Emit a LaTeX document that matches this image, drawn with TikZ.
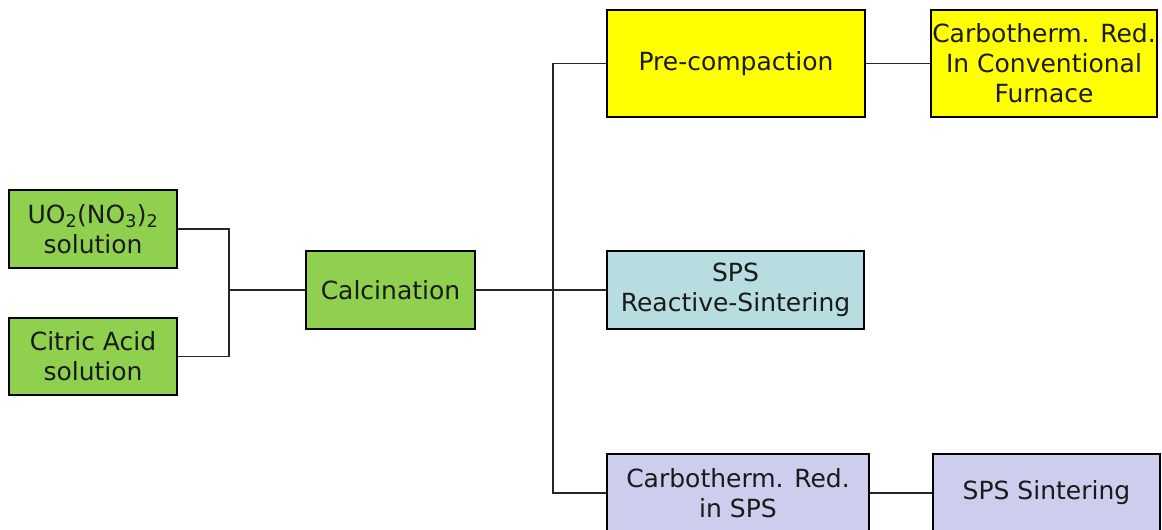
\documentclass[tikz,border=0pt]{standalone}
\usepackage{fontspec}
\setmainfont{DejaVu Sans}
\definecolor{boxgreen}{HTML}{8FD14F}
\definecolor{boxyellow}{HTML}{FFFF00}
\definecolor{boxblue}{HTML}{B8DDE1}
\definecolor{boxlav}{HTML}{CDCDEE}
\definecolor{txt}{HTML}{1A1A1A}
\begin{document}
\begin{tikzpicture}[x=1pt,y=-1pt,
  stepbox/.style={draw=black, line width=1.7pt, rectangle, align=center,
    inner sep=0pt, text=txt, font=\fontsize{25}{30}\selectfont},
  link/.style={draw=black!85, line width=1.6pt}]
\useasboundingbox (0,0) rectangle (1162,530);
\clip (0,0) rectangle (1162,530);

% mixing stage
\node[stepbox, fill=boxgreen, minimum width=168pt, minimum height=78pt] (uo2) at (93,229)
  {UO\textsubscript{2}(NO\textsubscript{3})\textsubscript{2}\\solution};
\node[stepbox, fill=boxgreen, minimum width=168pt, minimum height=77pt] (cit) at (93,356.5)
  {Citric Acid\\solution};
\node[stepbox, fill=boxgreen, minimum width=169pt, minimum height=78pt] (calc) at (390.5,290)
  {Calcination};

% processing routes
\node[stepbox, fill=boxyellow, minimum width=258pt, minimum height=107pt] (pre) at (736,63.5)
  {Pre-compaction};
\node[stepbox, fill=boxyellow, minimum width=226pt, minimum height=107pt] (conv) at (1044,63.5)
  {Carbotherm. Red.\\In Conventional\\Furnace};
\node[stepbox, fill=boxblue, minimum width=257pt, minimum height=78pt] (sps) at (735.5,290)
  {SPS\\Reactive-Sintering};
\node[stepbox, fill=boxlav, minimum width=262pt, minimum height=78pt] (csps) at (738,493)
  {Carbotherm. Red.\\in SPS};
\node[stepbox, fill=boxlav, minimum width=227pt, minimum height=78pt] (spss) at (1046.5,493)
  {SPS Sintering};

% junction points
\coordinate (j) at (229,290);
\coordinate (k) at (553,290);

% connectors
\draw[link] (uo2.east) -| (j);
\draw[link] (cit.east) -| (j);
\draw[link] (j) -- (calc.west);
\draw[link] (calc.east) -- (k) -- (sps.west);
\draw[link] (k) |- (pre.west);
\draw[link] (k) |- (csps.west);
\draw[link] (pre.east) -- (conv.west);
\draw[link] (csps.east) -- (spss.west);
\end{tikzpicture}
\end{document}
